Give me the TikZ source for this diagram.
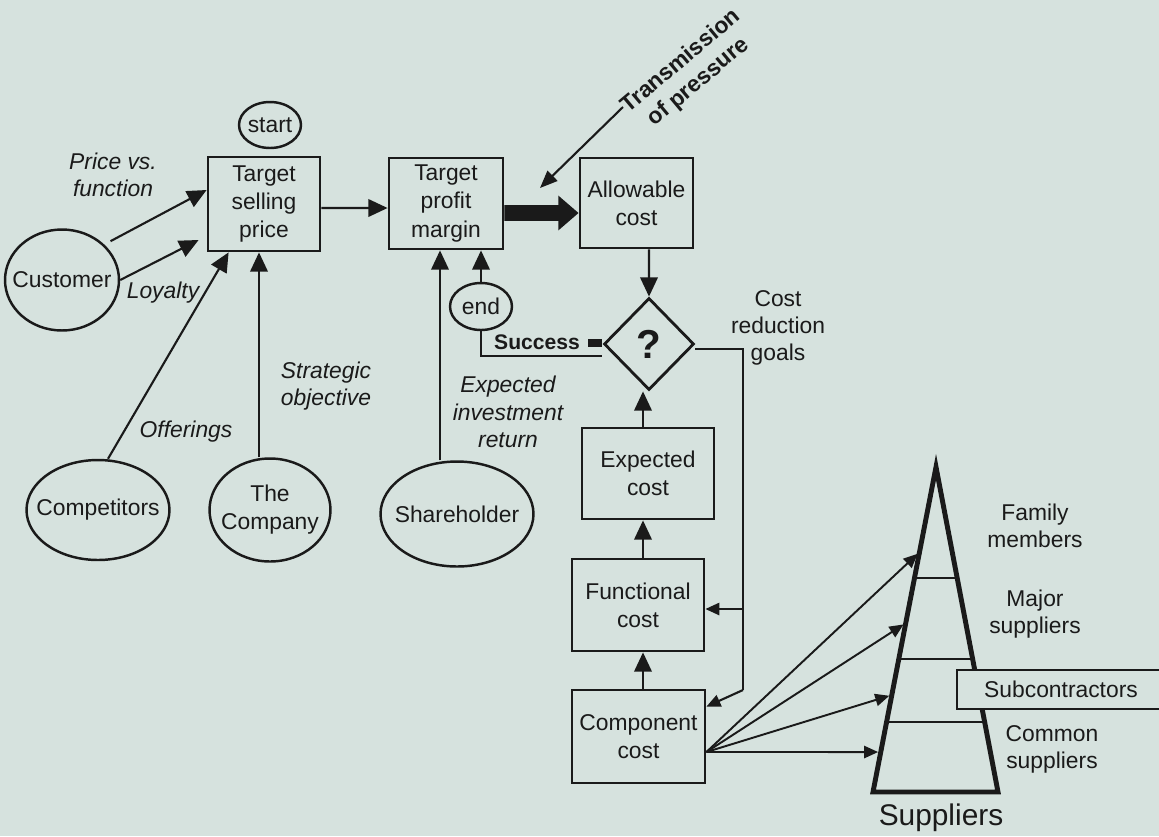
\documentclass[tikz,border=0pt]{standalone}
\usepackage{fontspec}
\setmainfont{Liberation Sans}
\usetikzlibrary{arrows.meta,shapes.geometric,calc}
\definecolor{bg}{RGB}{214,226,222}
\definecolor{ink}{RGB}{26,26,26}
\begin{document}
\begin{tikzpicture}[x=0.02cm,y=-0.02cm,
  every node/.style={font=\fontsize{13}{16}\selectfont, text=ink},
  box/.style={draw=ink, line width=1.6pt, rectangle, inner sep=0pt, align=center},
  ell/.style={draw=ink, line width=1.4pt, ellipse, inner sep=0pt},
  con/.style={draw=ink, line width=1.2pt},
  myarr/.style={-{Triangle[length=11pt,width=10pt]}},
  smarr/.style={-{Triangle[length=8pt,width=7pt]}},
  it/.style={font=\fontsize{13}{15.5}\selectfont\itshape, align=center},
  plain/.style={font=\fontsize{13}{15.5}\selectfont, align=center}
]
\useasboundingbox (0,0) rectangle (1159,836);
\fill[bg] (0,0) rectangle (1159,836);
\clip (0,0) rectangle (1159,836);

% nodes
\node[ell, minimum width=1.24cm, minimum height=0.92cm, label=center:start] (start) at (270,125) {};
\node[box, minimum width=2.24cm, minimum height=1.88cm] (tsp) at (264,204) {Target\\selling\\price};
\node[box, minimum width=2.28cm, minimum height=1.82cm] (tpm) at (446,203.5) {Target\\profit\\margin};
\node[box, minimum width=2.26cm, minimum height=1.80cm] (ac) at (636.5,203) {Allowable\\cost};
\node[ell, minimum width=2.28cm, minimum height=2.02cm, label=center:Customer] (cust) at (62,280) {};
\node[ell, minimum width=2.86cm, minimum height=2.0cm, label=center:Competitors] (compet) at (98,510) {};
\node[ell, minimum width=2.42cm, minimum height=2.06cm, label={[align=center]center:{The\\Company}}] (comp) at (270,510) {};
\node[ell, minimum width=3.06cm, minimum height=2.1cm, label=center:Shareholder] (sh) at (457,514) {};
\node[ell, minimum width=1.24cm, minimum height=0.94cm, label=center:end] (endn) at (481,306.5) {};
\node[diamond, draw=ink, line width=1.6pt, inner sep=0pt, minimum width=1.8cm, minimum height=1.84cm, font=\fontsize{23}{23}\selectfont\bfseries] (dia) at (649,344) {?};
\node[box, minimum width=2.64cm, minimum height=1.82cm] (exp) at (648,473.5) {Expected\\cost};
\node[box, minimum width=2.64cm, minimum height=1.84cm] (fc) at (638,605) {Functional\\cost};
\node[box, minimum width=2.66cm, minimum height=1.86cm] (cc) at (638.5,736.5) {Component\\cost};

% labels
\node[it] (pvf) at (113,175) {Price vs.\\function};
\node[it] (loy) at (163,293) {Loyalty};
\node[it] (off) at (186,432) {Offerings};
\node[it] (so) at (326,386) {Strategic\\objective};
\node[it] (eir) at (508,412) {Expected\\investment\\return};
\node[plain] (crg) at (778,328) {Cost\\reduction\\goals};
\node[font=\fontsize{12}{14}\selectfont\bfseries] (succ) at (537,342) {Success};
\node[rotate=40, align=center, font=\fontsize{13}{15.5}\selectfont\bfseries] (tp) at (690,72) {Transmission\\of pressure};
\node[plain] (fam) at (1035,526) {Family\\members};
\node[plain] (maj) at (1035,614) {Major\\suppliers};
\node[plain] (com) at (1052,749) {Common\\suppliers};
\node[font=\fontsize{17}{20}\selectfont] (sup) at (941,818) {Suppliers};

% connectors
\draw[con,myarr,shorten <=4pt] (cust.40) -- ($(tsp.west)+(0,-14)$);
\draw[con,myarr] (cust.east) -- ($(tsp.west)+(-8,36)$);
\draw[con,myarr] ($(compet.north)+(10,0)$) -- ($(tsp.south west)+(22,0)$);
\draw[con,myarr] ($(comp.north)+(-11,0)$) -- ($(tsp.south)+(-5,0)$);
\draw[con,myarr] ($(tsp.east)+(0,4)$) -- ($(tpm.west)+(0,4.5)$);
\draw[ink, line width=9pt, -{Triangle[length=11.5pt,width=19pt]}] ($(tpm.east)+(0,9.5)$) -- ($(ac.west)+(0,10)$);
\coordinate (tpa) at (623,107);
\coordinate (tpb) at (540,188);
\draw[con, -{Triangle[length=10pt,width=8pt]}] (tpa) -- (tpb);
\draw[con,myarr] ($(sh.north)+(-17,0)$) -- ($(tpm.south)+(-6,0)$);
\draw[con,myarr] (endn.north) -- ($(tpm.south)+(35,0)$);
\draw[con,myarr] ($(ac.south)+(12.5,0)$) -- (dia.north);
\coordinate (ea) at ($(exp.north)+(-5,0)$);
\draw[con,myarr] (ea) -- (ea |- dia.south);
\coordinate (fa) at ($(fc.north)+(5,0)$);
\draw[con,myarr] (fa) -- (fa |- exp.south);
\coordinate (ca) at ($(cc.north)+(4.5,0)$);
\draw[con,myarr] (ca) -- (ca |- fc.south);

% cost reduction loop
\coordinate (r1) at (743,349);
\coordinate (r2) at (743,690);
\draw[con] ($(dia.east)+(0,5)$) -- (r1) -- (r2);
\draw[con,smarr] (r2) -- ($(cc.north east)+(0,18)$);
\coordinate (fb) at ($(fc.east)+(0,4)$);
\draw[con,smarr] (fb -| r1) -- (fb);

% success
\coordinate (sa) at ($(dia.west)+(-1,12)$);
\draw[con] (sa) -| (endn.south);
\fill[ink] (588,339) rectangle (602,347);

% suppliers pyramid
\coordinate (apex) at (936,467);
\coordinate (bl) at (873,792);
\coordinate (br) at (998,792);
\coordinate (cco) at ($(cc.east)+(0,15.5)$);
\foreach \f in {0.2615,0.48,0.7015,0.877}
  \draw[con,line width=1.1pt,smarr,shorten >=1.5pt] (cco) -- ($(apex)!\f!(bl)$);
\foreach \f in {0.3415,0.5908,0.7846}
  \draw[ink, line width=1pt] ($(apex)!\f!(bl)$) -- ($(apex)!\f!(br)$);
\draw[ink, line width=2.8pt, line join=miter, miter limit=20] (apex) -- (bl) -- (br) -- cycle;
\node[draw=ink, fill=bg, line width=1pt, minimum width=4.16cm, minimum height=0.78cm, inner sep=0pt] (sub) at (1061,689.5) {Subcontractors};
\end{tikzpicture}
\end{document}
